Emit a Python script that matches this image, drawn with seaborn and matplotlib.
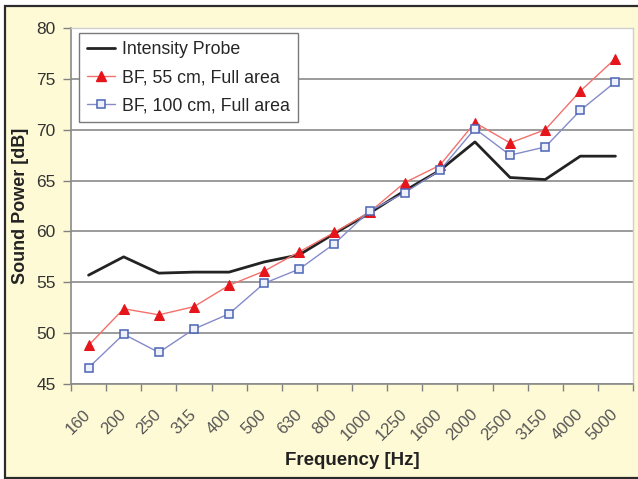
import numpy as np
import pandas as pd
import matplotlib
matplotlib.use("Agg")
import matplotlib.pyplot as plt
from matplotlib.patches import Rectangle
from matplotlib.lines import Line2D
from matplotlib.transforms import ScaledTranslation
import seaborn as sns

# Third-octave band centre frequencies
freq_labels = ["160", "200", "250", "315", "400", "500", "630", "800", "1000",
               "1250", "1600", "2000", "2500", "3150", "4000", "5000"]

# Sound power per band [dB]
intensity_probe = [55.7, 57.5, 55.9, 56.0, 56.0, 57.0, 57.7, 59.8, 61.8,
                   64.0, 66.0, 68.8, 65.3, 65.1, 67.4, 67.4]
bf_55cm = [48.8, 52.4, 51.8, 52.6, 54.7, 56.1, 58.0, 59.9, 61.9,
           64.8, 66.5, 70.7, 68.7, 70.0, 73.8, 77.0]
bf_100cm = [46.6, 49.9, 48.1, 50.4, 51.9, 54.9, 56.3, 58.8, 62.0,
            63.8, 66.0, 70.1, 67.5, 68.3, 71.9, 74.7]

series_names = ["Intensity Probe", "BF, 55 cm, Full area", "BF, 100 cm, Full area"]

pos = np.arange(len(freq_labels))
df = pd.DataFrame({
    "pos": np.tile(pos, 3),
    "level": intensity_probe + bf_55cm + bf_100cm,
    "series": np.repeat(series_names, len(freq_labels)),
})

sns.set_theme(style="white")
plt.rcParams["font.family"] = ["Liberation Sans", "DejaVu Sans"]

W, H = 638, 479
fig = plt.figure(figsize=(W / 100, H / 100), dpi=100)
fig.patch.set_facecolor("white")

# Cream panel with dark frame (open to the right edge)
fig.add_artist(Rectangle((5 / W, 1 / H), (W + 20) / W, 472 / H,
                         transform=fig.transFigure, facecolor="#FFFAD6",
                         edgecolor="#2b2b2b", linewidth=1.6, zorder=0,
                         clip_on=False))

ax = fig.add_axes([71 / W, 1 - 384 / H, (633 - 71) / W, (384 - 28) / H])
ax.set_facecolor("white")

cols = {"Intensity Probe": "#232323",
        "BF, 55 cm, Full area": "#F2716C",
        "BF, 100 cm, Full area": "#858BC9"}
tri_kw = dict(marker="^", markersize=7, markerfacecolor="#E5151B",
              markeredgecolor="#E5151B")
sq_kw = dict(marker="s", markersize=5.5, markerfacecolor="#EEF0FA",
             markeredgecolor="#4B64B5", markeredgewidth=1.1)

sns.lineplot(data=df[df.series == series_names[0]], x="pos", y="level",
             color=cols[series_names[0]], linewidth=2.0, ax=ax, zorder=3)
sns.lineplot(data=df[df.series == series_names[1]], x="pos", y="level",
             color=cols[series_names[1]], linewidth=1.0, ax=ax, zorder=4,
             **tri_kw)
sns.lineplot(data=df[df.series == series_names[2]], x="pos", y="level",
             color=cols[series_names[2]], linewidth=1.0, ax=ax, zorder=4,
             **sq_kw)

ax.set_xlim(-0.5, len(freq_labels) - 0.5)
ax.set_ylim(45, 80)
ax.set_yticks(np.arange(45, 81, 5))
ax.yaxis.grid(True, color="#8a8a8a", linewidth=1.2)
ax.set_axisbelow(True)

ax.set_xticks(pos)
ax.set_xticks(np.arange(-0.5, len(freq_labels), 1.0), minor=True)
ax.set_xticklabels(freq_labels, rotation=45, ha="right", va="center",
                   rotation_mode="anchor", fontsize=12, color="#555555")
shift = ScaledTranslation(-7 / 72, 0, fig.dpi_scale_trans)
for lab in ax.get_xticklabels():
    lab.set_transform(lab.get_transform() + shift)
ax.tick_params(axis="x", which="major", length=0, pad=20)
ax.tick_params(axis="x", which="minor", length=5, width=1, color="#808080",
               direction="out", bottom=True)
ax.tick_params(axis="y", length=6, width=1, color="#808080", direction="out",
               left=True, labelsize=12.5, labelcolor="#333333", pad=5)

for s in ["left", "bottom"]:
    ax.spines[s].set_color("#8a8a8a")
    ax.spines[s].set_linewidth(1.2)
for s in ["top", "right"]:
    ax.spines[s].set_color("#cfcfcf")
    ax.spines[s].set_linewidth(1.0)

ax.set_xlabel("Frequency [Hz]", fontsize=13.5, fontweight="bold",
              color="#222222", labelpad=6)
ax.set_ylabel("Sound Power [dB]", fontsize=13, fontweight="bold",
              color="#222222", labelpad=5)

handles = [
    Line2D([], [], color=cols[series_names[0]], linewidth=2.0),
    Line2D([], [], color=cols[series_names[1]], linewidth=1.0, **tri_kw),
    Line2D([], [], color=cols[series_names[2]], linewidth=1.0, **sq_kw),
]
leg = ax.legend(handles, series_names, loc="upper left",
                bbox_to_anchor=(8 / 562, 1 - 5 / 356), fontsize=12.8,
                frameon=True, fancybox=False, framealpha=1,
                edgecolor="#7a7a7a", handlelength=1.6, handletextpad=0.35,
                labelspacing=0.62, borderpad=0.45, borderaxespad=0)
leg.get_frame().set_linewidth(1.0)

fig.savefig("out.png", dpi=100)
